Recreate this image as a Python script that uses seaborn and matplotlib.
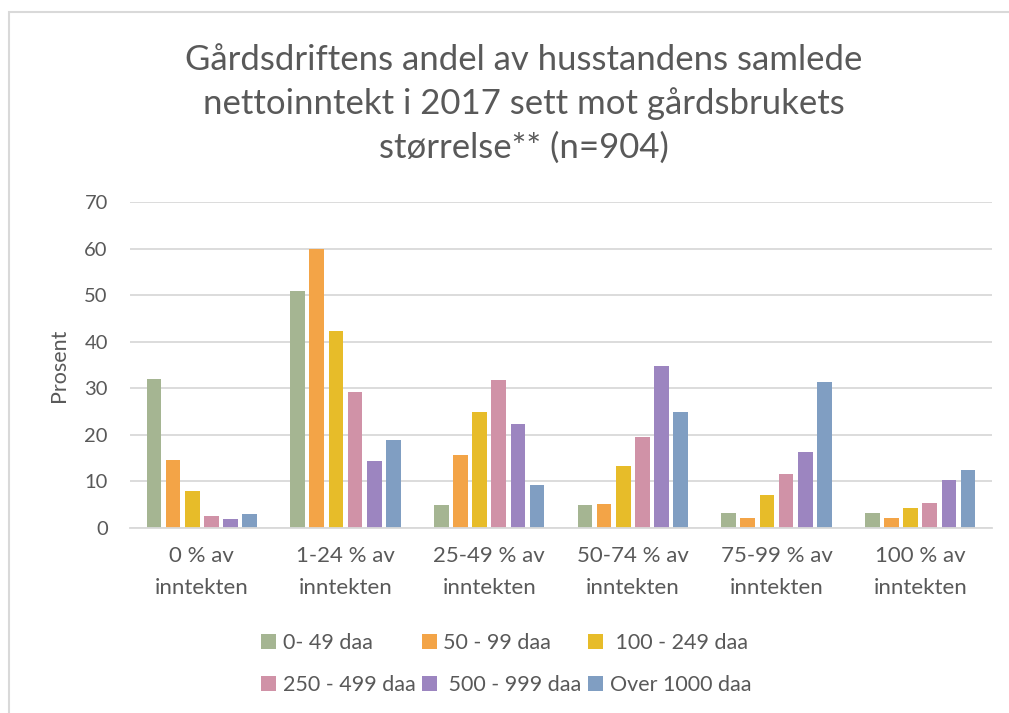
import matplotlib.pyplot as plt
import matplotlib.patches as mpatches
import seaborn as sns
import pandas as pd

# Data
kategorier = ["0 % av\ninntekten", "1-24 % av\ninntekten", "25-49 % av\ninntekten",
              "50-74 % av\ninntekten", "75-99 % av\ninntekten", "100 % av\ninntekten"]
grupper = ["0- 49 daa", "50 - 99 daa", " 100 - 249 daa",
           "250 - 499 daa", " 500 - 999 daa", "Over 1000 daa"]
verdier = {
    "0- 49 daa":      [32.1, 50.8, 5.0, 5.0, 3.3, 3.3],
    "50 - 99 daa":    [14.7, 60.0, 15.6, 5.1, 2.2, 2.2],
    " 100 - 249 daa": [7.9, 42.2, 25.0, 13.3, 7.0, 4.4],
    "250 - 499 daa":  [2.5, 29.1, 31.7, 19.6, 11.7, 5.3],
    " 500 - 999 daa": [2.0, 14.3, 22.4, 34.7, 16.3, 10.2],
    "Over 1000 daa":  [3.1, 18.8, 9.3, 25.0, 31.3, 12.5],
}
farger = ["#A5B592", "#F3A447", "#E7BC29", "#D092A7", "#9C85C0", "#809EC2"]

rows = []
for g in grupper:
    for k, v in zip(kategorier, verdier[g]):
        rows.append({"kategori": k, "gruppe": g, "prosent": v})
df = pd.DataFrame(rows)

sns.set_style("white")
plt.rcParams["font.family"] = ["Lato", "DejaVu Sans"]
text_color = "#595959"
grid_color = "#D9D9D9"

fig = plt.figure(figsize=(10.09, 7.13), dpi=100)
ax = fig.add_axes([130 / 1009, 1 - 528 / 713, 862 / 1009, 326 / 713])

sns.barplot(data=df, x="kategori", y="prosent", hue="gruppe", order=kategorier,
            hue_order=grupper, palette=farger, width=0.8, gap=0.23,
            linewidth=0, saturation=1, ax=ax)

ax.set_ylim(0, 70)
ax.set_yticks(range(0, 71, 10))
ax.set_xlim(-0.5, len(kategorier) - 0.5)
ax.yaxis.grid(True, color=grid_color, linewidth=1.3)
ax.set_axisbelow(True)
for s in ["top", "right", "left"]:
    ax.spines[s].set_visible(False)
ax.spines["bottom"].set_color(grid_color)
ax.spines["bottom"].set_linewidth(1.3)
ax.tick_params(axis="both", length=0, colors=text_color)
ax.tick_params(axis="y", pad=16, labelsize=14.5)
ax.tick_params(axis="x", pad=13, labelsize=16)
for lab in ax.get_xticklabels():
    lab.set_linespacing(1.75)
ax.set_xlabel("")
ax.set_ylabel("Prosent", color=text_color, fontsize=15.5, labelpad=11)

# legend in row order (3 columns, 2 rows)
handles, labels = ax.get_legend_handles_labels()
order = [0, 3, 1, 4, 2, 5]
ax.get_legend().remove()
ax.legend([handles[i] for i in order], [labels[i] for i in order],
          loc="center", bbox_to_anchor=(506 / 1009, 1 - 664 / 713),
          bbox_transform=fig.transFigure, ncol=3, frameon=False,
          fontsize=15.5, handlelength=0.7, handleheight=0.7,
          handletextpad=0.3, columnspacing=0.3, labelspacing=1.05,
          labelcolor=text_color)

fig.text(524 / 1009, 1 - 104 / 713,
         "Gårdsdriftens andel av husstandens samlede\nnettoinntekt i 2017 sett mot gårdsbrukets\nstørrelse** (n=904)",
         ha="center", va="center", fontsize=25, color=text_color, linespacing=1.42)

# chart frame
fig.patches.append(mpatches.Rectangle((9 / 1009, -0.1), 1.2, 1 - 12 / 713 + 0.1,
                                      transform=fig.transFigure, fill=False,
                                      edgecolor=grid_color, linewidth=1.5))

fig.savefig("out.png", dpi=100)
